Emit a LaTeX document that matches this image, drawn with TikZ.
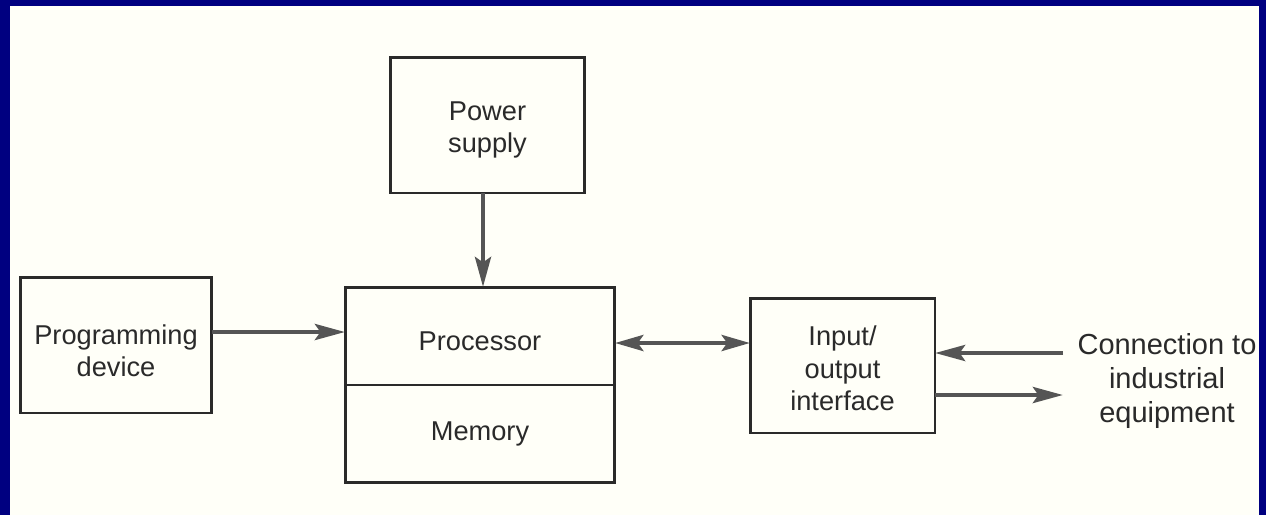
\documentclass[tikz,border=0pt]{standalone}
\usepackage{fontspec}
\setmainfont{Liberation Sans}
\usetikzlibrary{arrows.meta}
\definecolor{navy}{HTML}{000080}
\definecolor{paper}{HTML}{FFFFF8}
\definecolor{ink}{HTML}{2A2A2A}
\definecolor{arrowgray}{HTML}{555555}
\begin{document}
\begin{tikzpicture}[x={(0.02cm,0)}, y={(0,-0.02cm)},
  box/.style={draw=ink, line width=1.7pt, inner sep=0pt, outer sep=0pt},
  flow/.style={draw=arrowgray, line width=2.8pt, -{Stealth[length=17pt,width=9pt,inset=3pt]}},
  flow2/.style={draw=arrowgray, line width=2.8pt,
    {Stealth[length=16pt,width=9pt,inset=3pt]}-{Stealth[length=16pt,width=9pt,inset=3pt]}},
  lbl/.style={align=center, inner sep=0pt, text=ink, font=\fontsize{15.5}{18}\selectfont}]
\useasboundingbox (0,0) rectangle (1266,515);
\fill[navy] (0,0) rectangle (1266,515);
\fill[paper] (10,6) rectangle (1259,515);

\node[box, minimum width=3.9cm, minimum height=2.72cm] (ps) at (487.5,125) {};
\node[box, minimum width=5.4cm, minimum height=1.96cm] (proc) at (480,336) {};
\node[box, minimum width=5.4cm, minimum height=1.96cm, anchor=north] (mem) at (proc.south) {};
\node[box, minimum width=3.84cm, minimum height=2.72cm] (prog) at (116,345) {};
\node[box, minimum width=3.7cm, minimum height=2.7cm] (io) at (842.5,365.5) {};

\node[lbl] (psT) at ([yshift=-0.1cm]ps.center) {Power\\supply};
\node[lbl] (procT) at ([yshift=-0.1cm]proc.center) {Processor};
\node[lbl] (memT) at ([yshift=0cm]mem.center) {Memory};
\node[lbl] (progT) at ([yshift=-0.12cm]prog.center) {Programming\\device};
\node[lbl, font=\fontsize{15.5}{18.5}\selectfont] (ioT) at ([yshift=-0.06cm]io.center) {Input/\\output\\interface};
\node[lbl, font=\fontsize{16.5}{19.5}\selectfont] (conn) at (1167,381) {Connection to\\industrial\\equipment};
\coordinate (cin) at (1063,353);
\coordinate (cout) at (1063,395);

\draw[flow] (ps.south -| 483,0) -- (proc.north -| 483,0);
\draw[flow] (prog.east |- 0,332) -- (proc.west |- 0,332);
\draw[flow2] (proc.east |- 0,343) -- (io.west |- 0,343);
\draw[flow] (cin) -- (io.east |- cin);
\draw[flow] (io.east |- cout) -- (cout);
\end{tikzpicture}
\end{document}
